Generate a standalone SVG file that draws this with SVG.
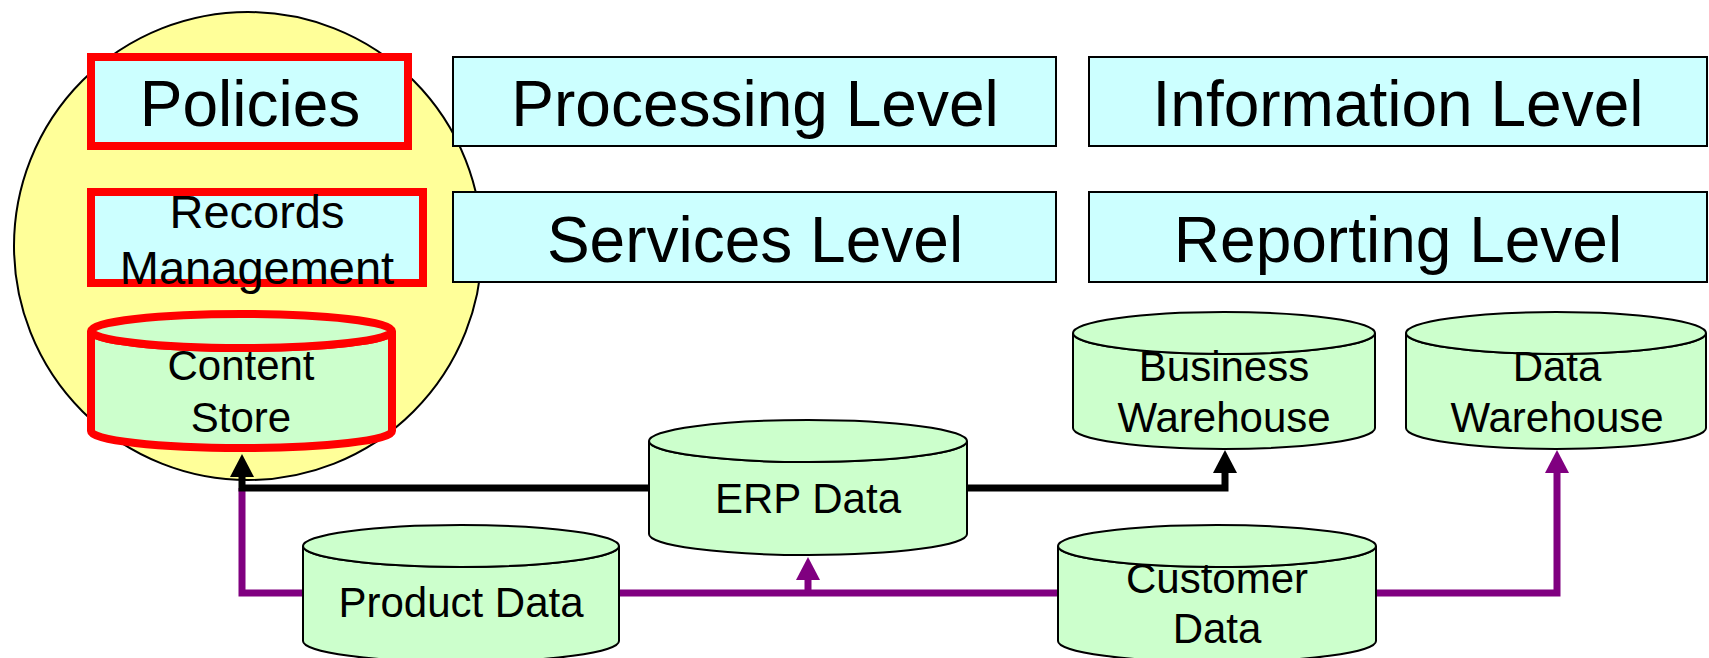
<svg xmlns="http://www.w3.org/2000/svg" width="1709" height="658" viewBox="0 0 1709 658">
<style>
text{font-family:"Liberation Sans",Arial,Helvetica,sans-serif;fill:#000;text-anchor:middle}
.big{font-size:64px}
.mid{font-size:47px}
.sm{font-size:42px}
.lvl{fill:#CCFFFF;stroke:#000;stroke-width:2}
.red{fill:#CCFFFF;stroke:#FF0000;stroke-width:8}
.cyl{fill:#CCFFCC;stroke:#000;stroke-width:2}
.cylr{fill:#CCFFCC;stroke:#FF0000;stroke-width:8}
.blk{fill:none;stroke:#000;stroke-width:7;stroke-linejoin:miter}
.pur{fill:none;stroke:#800080;stroke-width:7;stroke-linejoin:miter}
</style>
<defs>
<marker id="ab" markerUnits="userSpaceOnUse" markerWidth="24" markerHeight="24" viewBox="0 -12 23 24" refX="0" refY="0" orient="auto" overflow="visible"><path d="M0,-12 L23,0 L0,12 Z" fill="#000"/></marker>
<marker id="ap" markerUnits="userSpaceOnUse" markerWidth="24" markerHeight="24" viewBox="0 -12 23 24" refX="0" refY="0" orient="auto" overflow="visible"><path d="M0,-12 L23,0 L0,12 Z" fill="#800080"/></marker>
</defs>

<g id="scope">
<ellipse cx="248" cy="246" rx="234" ry="234" fill="#FFFF99" stroke="#000" stroke-width="2"/>
</g>

<g id="policies">
<rect class="red" x="91" y="57" width="317" height="89"/>
<text class="big" x="250" y="126">Policies</text>
</g>
<g id="records-management">
<rect class="red" x="91" y="192" width="332" height="91"/>
<text class="mid" x="257" y="228">Records</text>
<text class="mid" x="257" y="284">Management</text>
</g>

<g id="processing-level">
<rect class="lvl" x="453" y="57" width="603" height="89"/>
<text class="big" x="755" y="126">Processing Level</text>
</g>
<g id="services-level">
<rect class="lvl" x="453" y="192" width="603" height="90"/>
<text class="big" x="755" y="262">Services Level</text>
</g>
<g id="information-level">
<rect class="lvl" x="1089" y="57" width="618" height="89"/>
<text class="big" x="1398" y="126">Information Level</text>
</g>
<g id="reporting-level">
<rect class="lvl" x="1089" y="192" width="618" height="90"/>
<text class="big" x="1398" y="262">Reporting Level</text>
</g>

<g id="connectors">
<path class="pur" d="M302,593 H242 V488"/>
<path class="pur" d="M620,593 H1057"/>
<path class="pur" d="M808,593 V580" marker-end="url(#ap)"/>
<path class="pur" d="M1377,593 H1557 V473" marker-end="url(#ap)"/>
<path class="blk" d="M648,488 H242 V477" marker-end="url(#ab)"/>
<path class="blk" d="M967,488 H1225 V473" marker-end="url(#ab)"/>
</g>

<g id="content-store">
<path class="cylr" d="M91,331 V431 A150.5,17 0 0 0 392,431 V331 A150.5,17 0 0 1 91,331 Z"/>
<ellipse class="cylr" cx="241.5" cy="331" rx="150.5" ry="17"/>
<text class="sm" x="241" y="380">Content</text>
<text class="sm" x="241" y="432">Store</text>
</g>

<g id="erp-data">
<path class="cyl" d="M649,441 V534 A159,21 0 0 0 967,534 V441 A159,21 0 0 1 649,441 Z"/>
<ellipse class="cyl" cx="808" cy="441" rx="159" ry="21"/>
<text class="sm" x="808" y="513">ERP Data</text>
</g>

<g id="product-data">
<path class="cyl" d="M303,546 V641 A158,21 0 0 0 619,641 V546 A158,21 0 0 1 303,546 Z"/>
<ellipse class="cyl" cx="461" cy="546" rx="158" ry="21"/>
<text class="sm" x="461" y="617">Product Data</text>
</g>

<g id="customer-data">
<path class="cyl" d="M1058,546 V641 A159,21 0 0 0 1376,641 V546 A159,21 0 0 1 1058,546 Z"/>
<ellipse class="cyl" cx="1217" cy="546" rx="159" ry="21"/>
<text class="sm" x="1217" y="593">Customer</text>
<text class="sm" x="1217" y="643">Data</text>
</g>

<g id="business-warehouse">
<path class="cyl" d="M1073,333 V428 A151,21 0 0 0 1375,428 V333 A151,21 0 0 1 1073,333 Z"/>
<ellipse class="cyl" cx="1224" cy="333" rx="151" ry="21"/>
<text class="sm" x="1224" y="381">Business</text>
<text class="sm" x="1224" y="432">Warehouse</text>
</g>

<g id="data-warehouse">
<path class="cyl" d="M1406,333 V428 A150,21 0 0 0 1706,428 V333 A150,21 0 0 1 1406,333 Z"/>
<ellipse class="cyl" cx="1556" cy="333" rx="150" ry="21"/>
<text class="sm" x="1557" y="381">Data</text>
<text class="sm" x="1557" y="432">Warehouse</text>
</g>
</svg>
